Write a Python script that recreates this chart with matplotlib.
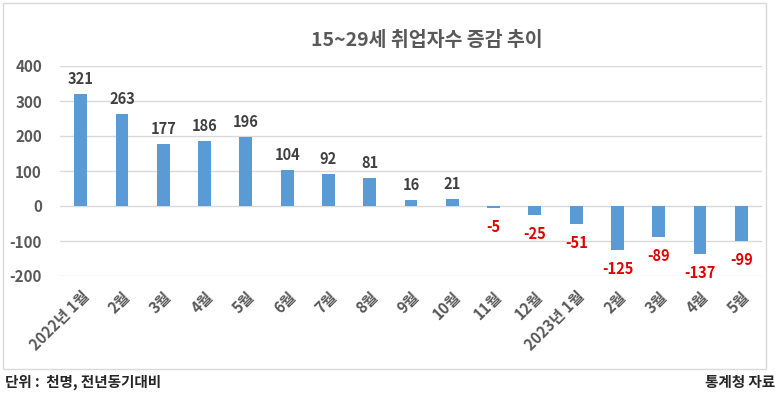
import matplotlib.pyplot as plt
from matplotlib.patches import Rectangle

plt.rcParams['font.family'] = ['Noto Sans CJK KR', 'DejaVu Sans']

months = ['2022년 1월', '2월', '3월', '4월', '5월', '6월', '7월', '8월', '9월', '10월',
          '11월', '12월', '2023년 1월', '2월', '3월', '4월', '5월']
values = [321, 263, 177, 186, 196, 104, 92, 81, 16, 21,
          -5, -25, -51, -125, -89, -137, -99]
yticks = [-200, -100, 0, 100, 200, 300, 400]

fig = plt.figure(figsize=(7.8, 3.93), dpi=100)
ax = fig.add_axes([60 / 780, (393 - 276) / 393, 702 / 780, 210 / 393])

x = list(range(len(values)))
ax.bar(x, values, width=0.31, color='#5B9BD5', zorder=3)

for xi, v in zip(x, values):
    if v >= 0:
        ax.annotate(str(v), (xi, v), xytext=(0, 5), textcoords='offset points',
                    ha='center', va='bottom', fontsize=10.5, fontweight='bold', color='#404040')
    else:
        ax.annotate(str(v), (xi, v), xytext=(0, -8), textcoords='offset points',
                    ha='center', va='top', fontsize=10.5, fontweight='bold', color='#E00000')

ax.set_xlim(-0.5, len(values) - 0.5)
ax.set_ylim(-200, 400)
ax.set_yticks(yticks)
ax.set_yticklabels([str(t) for t in yticks], fontsize=11, fontweight='bold', color='#595959')
ax.set_xticks(x)
ax.set_xticklabels(months, rotation=45, ha='right', rotation_mode='anchor',
                   fontsize=11, fontweight='bold', color='#595959')
ax.tick_params(axis='x', length=0, pad=9)
ax.tick_params(axis='y', length=0, pad=13)
ax.grid(axis='y', color='#D9D9D9', linewidth=1, zorder=0)
for s in ax.spines.values():
    s.set_visible(False)

fig.text(427 / 780, 1 - 40 / 393, '15~29세 취업자수 증감 추이', ha='center', va='center',
         fontsize=14, fontweight='bold', color='#595959')
fig.text(5 / 780, 1 - 382 / 393, '단위 :  천명, 전년동기대비', ha='left', va='center',
         fontsize=10.5, fontweight='bold', color='#262626')
fig.text(775 / 780, 1 - 382 / 393, '통계청 자료', ha='right', va='center',
         fontsize=10.5, fontweight='bold', color='#262626')

fig.patches.append(Rectangle((3 / 780, 1 - 369 / 393), 763 / 780, 366 / 393,
                             transform=fig.transFigure, fill=False,
                             edgecolor='#D9D9D9', linewidth=1))

fig.savefig('out.png', dpi=100)
